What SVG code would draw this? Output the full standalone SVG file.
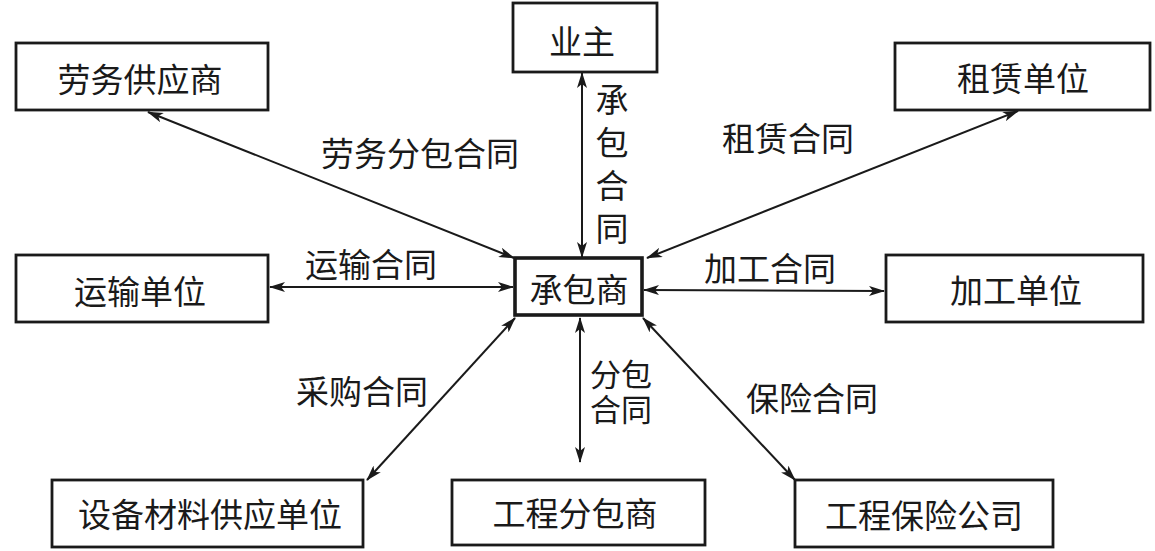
<svg xmlns="http://www.w3.org/2000/svg" width="1155" height="551" viewBox="0 0 1155 551">
<style>
.box{fill:#fff;stroke:#1a1a1a;stroke-width:2.8}
.main{stroke-width:3.6}
.t{font-family:"Noto Sans CJK SC","Noto Sans",sans-serif;font-size:33px;fill:#1a1a1a;text-anchor:middle;dominant-baseline:central}
.s{font-family:"Liberation Sans","Noto Sans CJK SC",sans-serif;font-size:31px}
.v{writing-mode:vertical-rl;letter-spacing:10px}
.c{stroke:#1a1a1a;stroke-width:2;fill:none;marker-start:url(#ah);marker-end:url(#ah)}
</style>
<defs>
<marker id="ah" viewBox="0 0 16 10" refX="15" refY="5" markerWidth="16" markerHeight="10" markerUnits="userSpaceOnUse" orient="auto-start-reverse">
<path d="M0,0 L16,5 L0,10 L4,5 z" fill="#1a1a1a"/>
</marker>
</defs>
<rect width="1155" height="551" fill="#fff"/>
<g id="connectors">
<line class="c" x1="148" y1="112" x2="514" y2="258"/>
<line class="c" x1="270" y1="287" x2="513" y2="287"/>
<line class="c" x1="582" y1="73" x2="582" y2="257"/>
<line class="c" x1="647" y1="258" x2="1018" y2="111"/>
<line class="c" x1="644" y1="290" x2="884" y2="291"/>
<line class="c" x1="367" y1="480" x2="515" y2="318"/>
<line class="c" x1="580" y1="318" x2="580" y2="462"/>
<line class="c" x1="643" y1="318" x2="795" y2="480"/>
</g>
<g id="labels">
<text class="t" x="420" y="152">劳务分包合同</text>
<text class="t" x="371" y="263">运输合同</text>
<text class="t v" x="612" y="169">承包合同</text>
<text class="t" x="788" y="137">租赁合同</text>
<text class="t" x="770" y="267">加工合同</text>
<text class="t" x="362" y="390">采购合同</text>
<text class="t s" x="621" y="375">分包</text>
<text class="t s" x="621" y="410">合同</text>
<text class="t" x="812" y="397">保险合同</text>
</g>
<g id="n-yezhu"><rect class="box" x="513" y="3" width="144" height="69"/><text class="t" x="582" y="40">业主</text></g>
<g id="n-laowu"><rect class="box" x="16" y="43" width="252" height="67"/><text class="t" x="140" y="78">劳务供应商</text></g>
<g id="n-zulin"><rect class="box" x="895" y="43" width="255" height="67"/><text class="t" x="1023" y="77">租赁单位</text></g>
<g id="n-yunshu"><rect class="box" x="16" y="255" width="252" height="67"/><text class="t" x="140" y="290">运输单位</text></g>
<g id="n-chengbao"><rect class="box main" x="515" y="258" width="127" height="57"/><text class="t" x="579" y="288">承包商</text></g>
<g id="n-jiagong"><rect class="box" x="886" y="255" width="257" height="67"/><text class="t" x="1016" y="289">加工单位</text></g>
<g id="n-shebei"><rect class="box" x="52" y="480" width="311" height="67"/><text class="t" x="210" y="513">设备材料供应单位</text></g>
<g id="n-fenbao"><rect class="box" x="452" y="480" width="253" height="65"/><text class="t" x="575" y="512">工程分包商</text></g>
<g id="n-baoxian"><rect class="box" x="795" y="480" width="258" height="67"/><text class="t" x="924" y="514">工程保险公司</text></g>
</svg>
